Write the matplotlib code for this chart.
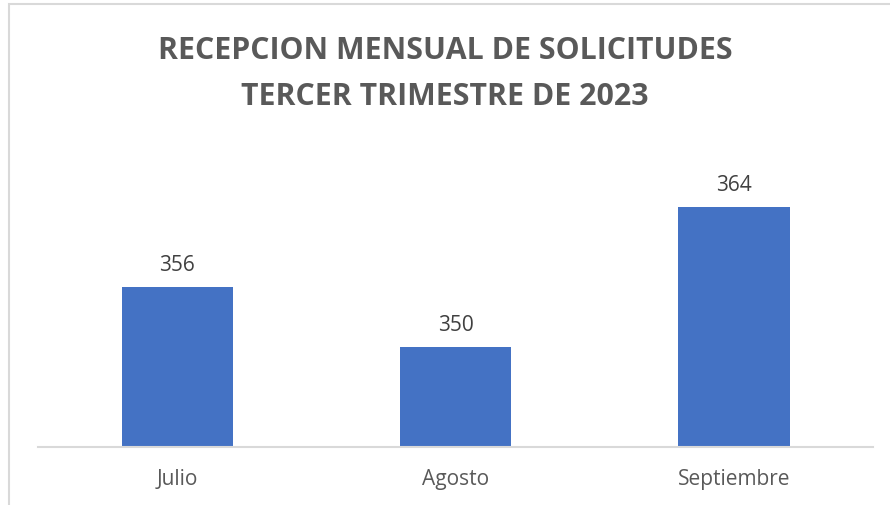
import matplotlib
matplotlib.use("Agg")
import matplotlib.pyplot as plt
from matplotlib.patches import Rectangle

categories = ["Julio", "Agosto", "Septiembre"]
values = [356, 350, 364]
title_lines = ["RECEPCION MENSUAL DE SOLICITUDES", "TERCER TRIMESTRE DE 2023"]

W, H = 890, 505
fig = plt.figure(figsize=(W / 100, H / 100), dpi=100)
fig.patch.set_facecolor("white")

# outer chart frame (cropped at right and bottom)
fig.patches.append(Rectangle((9 / W, -0.1), 1.2, 1 - 4 / H + 0.1, transform=fig.transFigure,
                             fill=False, edgecolor="#d9d9d9", linewidth=1.5))

left, right = 38 / W, 873 / W
bottom, top = 1 - 447 / H, 1 - 167 / H
ax = fig.add_axes([left, bottom, right - left, top - bottom])
ax.set_facecolor("none")

x = range(len(categories))
bars = ax.bar(x, values, width=0.4, color="#4472c4", zorder=2)
ax.set_xlim(-0.5, len(categories) - 0.5)
ax.set_ylim(340, 368)

for xi, v in zip(x, values):
    ax.annotate(f"{v}", (xi, v), xytext=(0, 8), textcoords="offset points",
                ha="center", va="bottom", fontsize=15, color="#404040", family="Open Sans")

ax.set_xticks(list(x))
ax.set_xticklabels(categories, fontsize=15, color="#595959", family="Open Sans")
ax.tick_params(axis="x", length=0, pad=16)
ax.set_yticks([])
for s in ["top", "right", "left"]:
    ax.spines[s].set_visible(False)
ax.spines["bottom"].set_color("#d9d9d9")
ax.spines["bottom"].set_linewidth(1.5)

fig.text(0.5, 1 - 51 / H, title_lines[0], ha="center", va="center", fontsize=21.8,
         fontweight="bold", color="#595959", family="Open Sans")
fig.text(0.5, 1 - 97 / H, title_lines[1], ha="center", va="center", fontsize=21.8,
         fontweight="bold", color="#595959", family="Open Sans")

fig.savefig("out.png", dpi=100, facecolor="white")
